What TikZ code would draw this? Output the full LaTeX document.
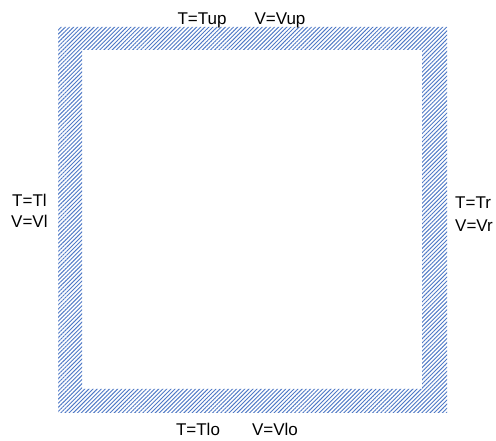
\documentclass[tikz,border=0pt]{standalone}
\usepackage{fontspec}
\newfontfamily\lblfont{Liberation Sans}
\usetikzlibrary{patterns.meta}
\definecolor{wallblue}{RGB}{80,122,198}
\begin{document}
\begin{tikzpicture}[x=1pt,y=1pt,
  wall/.style={pattern={Lines[angle=45,distance=2.9pt,line width=0.95pt]},pattern color=wallblue},
  lbl/.style={inner sep=0pt,font=\lblfont\fontsize{17}{21}\selectfont}]
\useasboundingbox (0,0) rectangle (496,441);
\def\outerwall{(58,28) rectangle (447,414)}
\def\innerwall{(82,52) rectangle (422,391)}

\fill[wall,even odd rule] \outerwall \innerwall;

\node[lbl,anchor=base] (tup) at (202,416) {T=Tup};
\node[lbl,anchor=base] (vup) at (280,416) {V=Vup};
\node[lbl,anchor=base] (tlo) at (198,5) {T=Tlo};
\node[lbl,anchor=base] (vlo) at (275,5) {V=Vlo};
\node[lbl,anchor=base west] (tl) at (12,234) {T=Tl};
\node[lbl,anchor=base west] (vl) at (11,213) {V=Vl};
\node[lbl,anchor=base west] (tr) at (455,232) {T=Tr};
\node[lbl,anchor=base west] (vr) at (455,209) {V=Vr};
\end{tikzpicture}
\end{document}
